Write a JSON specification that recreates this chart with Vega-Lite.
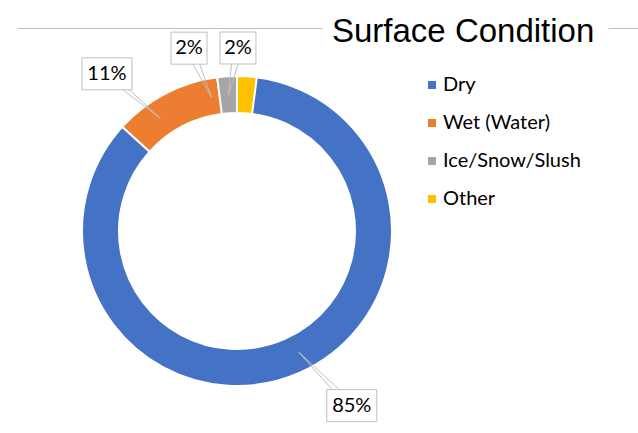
{
  "$schema": "https://vega.github.io/schema/vega-lite/v6.json",
  "width": 638,
  "height": 405,
  "autosize": {"type": "none"},
  "padding": {"left": 0, "top": 28, "right": 0, "bottom": 0},
  "background": "white",
  "config": {
    "view": {"stroke": null},
    "axis": {"ticks": false, "labels": false, "grid": false, "domain": false},
    "axisTop": {"domain": true, "domainColor": "#bfbfbf", "domainWidth": 1, "domainDash": [0, 17, 305, 286, 30]}
  },
  "title": {
    "text": "Surface Condition",
    "orient": "top",
    "anchor": "start",
    "frame": "group",
    "dx": 332,
    "dy": 47,
    "offset": 0,
    "baseline": "alphabetic",
    "font": "Liberation Sans",
    "fontSize": 33,
    "fontWeight": "normal",
    "color": "#000000"
  },
  "data": {
    "values": [
      {"category": "Dry", "value": 85},
      {"category": "Wet (Water)", "value": 11},
      {"category": "Ice/Snow/Slush", "value": 2},
      {"category": "Other", "value": 2}
    ]
  },
  "transform": [
    {"calculate": "indexof(['Dry','Wet (Water)','Ice/Snow/Slush','Other'], datum.category)", "as": "ord"},
    {"joinaggregate": [{"op": "sum", "field": "value", "as": "total"}]},
    {"window": [{"op": "sum", "field": "value", "as": "cum"}], "sort": [{"field": "ord", "order": "ascending"}], "frame": [null, 0]},
    {"calculate": "datum.cum - datum.value", "as": "start"},
    {"calculate": "2*PI*(datum.cum - datum.value/2)/datum.total", "as": "mid"},
    {"calculate": "136*sin(datum.mid)", "as": "tipX"},
    {"calculate": "136*cos(datum.mid)", "as": "tipY"},
    {"calculate": "datum.mid + PI/180*(datum.category=='Dry' ? -6.3 : datum.category=='Wet (Water)' ? -5.4 : datum.category=='Ice/Snow/Slush' ? -3.9 : 3.9)", "as": "la"},
    {"calculate": "datum.category=='Dry' ? 209 : datum.category=='Wet (Water)' ? 204 : datum.category=='Ice/Snow/Slush' ? 189 : 183", "as": "lr"},
    {"calculate": "datum.lr*sin(datum.la)", "as": "lx"},
    {"calculate": "datum.lr*cos(datum.la)", "as": "ly"},
    {"calculate": "format(datum.value/datum.total, '.0%')", "as": "label"},
    {"calculate": "8 + 14*length(datum.label)", "as": "bw"},
    {"calculate": "datum.lx - datum.bw/2", "as": "bx1"},
    {"calculate": "datum.lx + datum.bw/2", "as": "bx2"},
    {"calculate": "datum.ly - 16", "as": "by1"},
    {"calculate": "datum.ly + 16", "as": "by2"},
    {"calculate": "datum.lx - 5", "as": "ax"},
    {"calculate": "datum.lx + 5", "as": "bx"}
  ],
  "layer": [
    {
      "mark": {"type": "arc", "outerRadius": 155, "innerRadius": 118, "stroke": "white", "strokeWidth": 2},
      "encoding": {
        "x": {"datum": 0, "type": "quantitative", "stack": null, "scale": {"domain": [-237, 401], "nice": false, "zero": false}, "axis": {"orient": "top", "title": null}},
        "y": {"datum": 0, "type": "quantitative", "stack": null, "scale": {"domain": [-202, 203], "nice": false, "zero": false}, "axis": null},
        "theta": {"field": "start", "type": "quantitative", "stack": null},
        "theta2": {"field": "cum"},
        "color": {
          "field": "category",
          "type": "nominal",
          "scale": {"domain": ["Dry", "Wet (Water)", "Ice/Snow/Slush", "Other"], "range": ["#4472C4", "#ED7D31", "#A5A5A5", "#FFC000"]},
          "legend": {
            "orient": "none",
            "legendX": 422,
            "legendY": 47,
            "title": null,
            "symbolType": "square",
            "symbolSize": 64,
            "symbolStrokeWidth": 0,
            "labelFont": "Lato",
            "labelFontSize": 20,
            "labelColor": "#000000",
            "rowPadding": 18,
            "labelOffset": 1,
            "padding": 0
          }
        }
      }
    },
    {
      "mark": {"type": "rule", "color": "#bfbfbf", "strokeWidth": 1},
      "encoding": {
        "x": {"field": "tipX", "type": "quantitative", "scale": {"domain": [-237, 401], "nice": false, "zero": false}, "axis": {"orient": "top", "title": null}},
        "y": {"field": "tipY", "type": "quantitative", "scale": {"domain": [-202, 203], "nice": false, "zero": false}, "axis": null},
        "x2": {"field": "ax"},
        "y2": {"field": "ly"}
      }
    },
    {
      "mark": {"type": "rule", "color": "#bfbfbf", "strokeWidth": 1},
      "encoding": {
        "x": {"field": "tipX", "type": "quantitative", "scale": {"domain": [-237, 401], "nice": false, "zero": false}, "axis": {"orient": "top", "title": null}},
        "y": {"field": "tipY", "type": "quantitative", "scale": {"domain": [-202, 203], "nice": false, "zero": false}, "axis": null},
        "x2": {"field": "bx"},
        "y2": {"field": "ly"}
      }
    },
    {
      "mark": {"type": "rect", "fill": "white", "stroke": "#bfbfbf", "strokeWidth": 1},
      "encoding": {
        "x": {"field": "bx1", "type": "quantitative", "scale": {"domain": [-237, 401], "nice": false, "zero": false}, "axis": {"orient": "top", "title": null}},
        "y": {"field": "by1", "type": "quantitative", "scale": {"domain": [-202, 203], "nice": false, "zero": false}, "axis": null},
        "x2": {"field": "bx2"},
        "y2": {"field": "by2"}
      }
    },
    {
      "mark": {"type": "text", "font": "Lato", "fontSize": 20, "color": "#000000", "align": "center", "baseline": "middle"},
      "encoding": {
        "x": {"field": "lx", "type": "quantitative", "scale": {"domain": [-237, 401], "nice": false, "zero": false}, "axis": {"orient": "top", "title": null}},
        "y": {"field": "ly", "type": "quantitative", "scale": {"domain": [-202, 203], "nice": false, "zero": false}, "axis": null},
        "text": {"field": "label", "type": "nominal"}
      }
    }
  ]
}
